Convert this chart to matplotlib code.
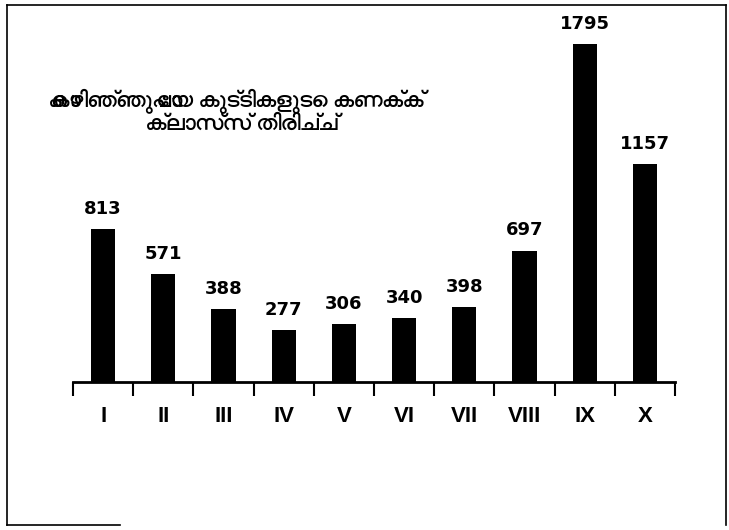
import matplotlib
matplotlib.use("Agg")
import matplotlib.pyplot as plt
from matplotlib import font_manager
from matplotlib.ft2font import FT2Font
from matplotlib.lines import Line2D
import numpy as np

categories = ["I", "II", "III", "IV", "V", "VI", "VII", "VIII", "IX", "X"]
values = [813, 571, 388, 277, 306, 340, 398, 697, 1795, 1157]
title_lines = ["കൊഴിഞ്ഞുപോയ കുട്ടികളുടെ കണക്ക്", "ക്ലാസ്സ് തിരിച്ച്"]

# find a font with Malayalam glyphs, preferring a bold face
mal_font = None
mal_bold = False
for f in font_manager.fontManager.ttflist:
    try:
        cm = FT2Font(f.fname).get_charmap()
        if 0x0D15 in cm:
            is_bold = (f.weight in ("bold", 700) or
                       (isinstance(f.weight, int) and f.weight >= 600))
            if mal_font is None or (is_bold and not mal_bold):
                mal_font = f.name
                mal_bold = is_bold
    except Exception:
        pass
title_family = [mal_font, "DejaVu Sans"] if mal_font else ["DejaVu Sans"]

fig = plt.figure(figsize=(7.29, 5.30), dpi=100)
W, H = 729, 530
ax = fig.add_axes([73 / W, 1 - 382 / H, (675 - 73) / W, (382 - 5.4) / H])

x = np.arange(len(categories))
ax.bar(x, values, width=0.4, color="black")
ax.set_xlim(-0.5, len(categories) - 0.5)
ax.set_ylim(0, 2000)

for xi, v in zip(x, values):
    ax.text(xi, v + 60, str(v), ha="center", va="bottom", fontsize=13,
            fontweight="bold", family="DejaVu Sans", color="black")

for s in ["top", "right", "left"]:
    ax.spines[s].set_visible(False)
ax.spines["bottom"].set_linewidth(2)
ax.set_yticks([])
ax.set_xticks(np.arange(-0.5, len(categories), 1.0))
ax.set_xticklabels([])
ax.tick_params(axis="x", length=10, width=1.5, direction="out")
for xi, c in zip(x, categories):
    ax.text(xi, -0.063, c, transform=ax.get_xaxis_transform(), ha="center",
            va="top", fontsize=16, fontweight="bold", family="Liberation Sans")

fig.text(236 / W, 1 - 101 / H, title_lines[0], ha="center", va="center",
         fontsize=15.5, fontweight="bold", family=title_family)
fig.text(242 / W, 1 - 124 / H, title_lines[1], ha="center", va="center",
         fontsize=15.5, fontweight="bold", family=title_family)

# frame around the picture
fr = dict(color="black", linewidth=1.2, transform=fig.transFigure)
fig.add_artist(Line2D([7 / W, 7 / W], [1 - 5 / H, 1 - 525 / H], **fr))
fig.add_artist(Line2D([7 / W, 726 / W], [1 - 5 / H, 1 - 5 / H], **fr))
fig.add_artist(Line2D([726 / W, 726 / W], [1 - 5 / H, 1 - 525 / H], **fr))
fig.add_artist(Line2D([7 / W, 120 / W], [1 - 525 / H, 1 - 525 / H], **fr))

fig.savefig("out.png", dpi=100)
